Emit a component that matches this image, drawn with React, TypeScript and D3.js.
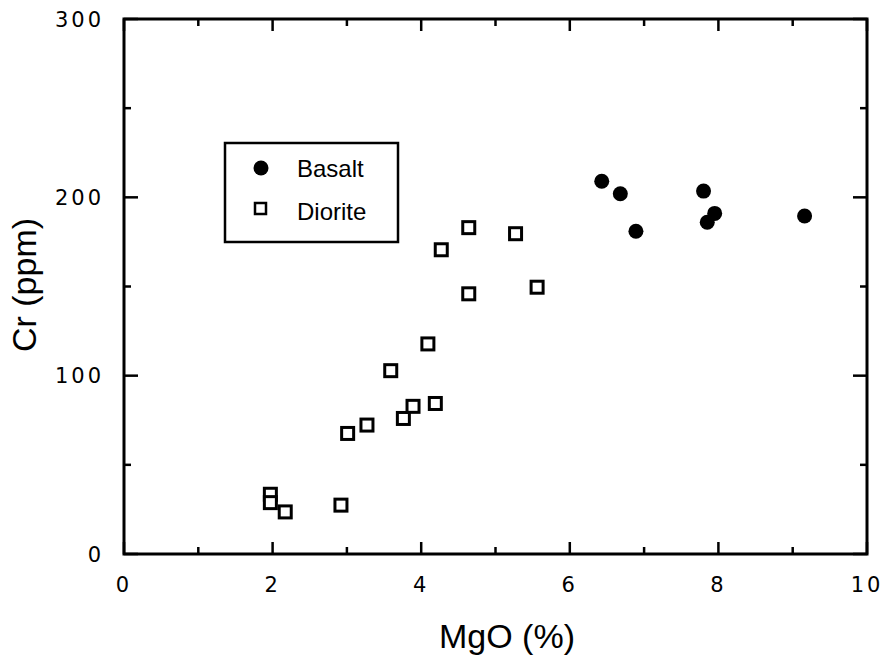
import React from 'react';
import * as d3 from 'd3';

// values
const basaltMgO = [6.43, 6.68, 6.89, 7.8, 7.95, 7.85, 9.16];
const basaltCr = [209, 202, 181, 203.5, 191, 186, 189.5];

const dioriteMgO = [1.97, 1.97, 2.17, 2.92, 3.01, 3.27, 3.76, 3.89, 4.19, 3.59, 4.09, 4.27, 4.64, 5.27, 4.64, 5.56];
const dioriteCr = [33.5, 28.8, 23.6, 27.4, 67.6, 72.3, 76, 82.8, 84.4, 102.8, 117.8, 170.6, 183, 179.6, 145.9, 149.6];

const xMajor = [0, 2, 4, 6, 8, 10];
const xMinor = [1, 3, 5, 7, 9];
const yMajor = [0, 100, 200, 300];
const yMinor = [50, 150, 250];

const legendItems = ['Basalt', 'Diorite'];

const W = 884;
const H = 666;

export default function App() {
  const x = d3.scaleLinear().domain([0, 10]).range([124, 867]);
  const y = d3.scaleLinear().domain([0, 300]).range([554, 19]);

  const [x0, x1] = x.range();
  const [y0, y1] = y.range();
  const major = 12;
  const minor = 7;

  const tickFont = { fontFamily: '"DejaVu Sans", sans-serif', fontSize: 21, letterSpacing: 3 };
  const labelFont = { fontFamily: '"Liberation Sans", Arial, sans-serif' };

  return (
    <svg width={W} height={H} style={{ position: 'absolute', left: 0, top: 0, background: '#fff' }}>
      <rect x={0} y={0} width={W} height={H} fill="#fff" />

      {/* ticks, pointing inward on all four sides */}
      <g stroke="#000" strokeWidth={2.5}>
        {xMajor.concat(xMinor).map((v) => {
          const len = xMajor.includes(v) ? major : minor;
          return (
            <g key={'xt' + v}>
              <line x1={x(v)} x2={x(v)} y1={y0} y2={y0 - len} />
              <line x1={x(v)} x2={x(v)} y1={y1} y2={y1 + len} />
            </g>
          );
        })}
        {yMajor.concat(yMinor).map((v) => {
          const len = yMajor.includes(v) ? major + 2 : minor;
          return (
            <g key={'yt' + v}>
              <line x1={x0} x2={x0 + len} y1={y(v)} y2={y(v)} />
              <line x1={x1} x2={x1 - len} y1={y(v)} y2={y(v)} />
            </g>
          );
        })}
      </g>

      <rect x={x0} y={y1} width={x1 - x0} height={y0 - y1} fill="none" stroke="#000" strokeWidth={3} />

      {/* tick labels */}
      {xMajor.map((v) => (
        <text key={'xl' + v} x={x(v)} y={592} textAnchor="middle" style={tickFont}>
          {v}
        </text>
      ))}
      {yMajor.map((v) => (
        <text key={'yl' + v} x={104} y={y(v)} dy="0.36em" textAnchor="end" style={tickFont}>
          {v}
        </text>
      ))}

      {/* axis titles */}
      <text x={507} y={648} textAnchor="middle" fontSize={34} style={labelFont}>
        MgO (%)
      </text>
      <text
        transform={`translate(36,${285}) rotate(-90)`}
        textAnchor="middle"
        fontSize={34}
        style={labelFont}
      >
        Cr (ppm)
      </text>

      {/* data */}
      {dioriteMgO.map((v, i) => (
        <rect
          key={'d' + i}
          x={x(v) - 6}
          y={y(dioriteCr[i]) - 6}
          width={12}
          height={12}
          fill="#fff"
          stroke="#000"
          strokeWidth={3}
        />
      ))}
      {basaltMgO.map((v, i) => (
        <circle key={'b' + i} cx={x(v)} cy={y(basaltCr[i])} r={7.5} fill="#000" />
      ))}

      {/* legend */}
      <rect x={225} y={143} width={173} height={99} fill="#fff" stroke="#000" strokeWidth={2.5} />
      <circle cx={261} cy={168} r={7.5} fill="#000" />
      <rect x={255} y={203} width={11} height={11} fill="#fff" stroke="#000" strokeWidth={2.5} />
      {legendItems.map((name, i) => (
        <text key={name} x={297} y={177 + i * 43} fontSize={24} style={labelFont}>
          {name}
        </text>
      ))}
    </svg>
  );
}
